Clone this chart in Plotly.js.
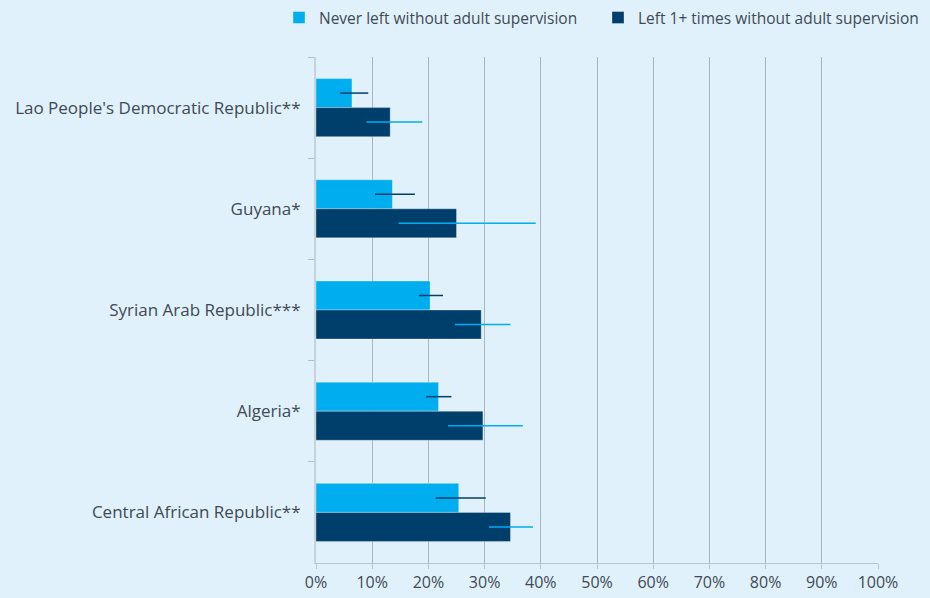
<!DOCTYPE html>
<html><head><meta charset="utf-8">
<script src="https://cdn.plot.ly/plotly-3.0.1.min.js"></script>
<style>body{margin:0;background:#e0f1fb;}</style>
</head><body><div id="chart" style="width:930px;height:598px;"></div>
<script>
const countries = ["Lao People's Democratic Republic**","Guyana*","Syrian Arab Republic***","Algeria*","Central African Republic**"];
const neverValues = [6.4, 13.6, 20.3, 21.8, 25.4];
const neverLow = [4.3, 10.5, 18.3, 19.6, 21.3];
const neverHigh = [9.3, 17.6, 22.6, 24.1, 30.2];
const leftValues = [13.2, 25.0, 29.4, 29.7, 34.6];
const leftLow = [9.0, 14.7, 24.7, 23.5, 30.8];
const leftHigh = [18.9, 39.1, 34.6, 36.8, 38.6];
const seriesNames = ["Never left without adult supervision","Left 1+ times without adult supervision"];
const xTicks = [0,10,20,30,40,50,60,70,80,90,100];

const plus = (v, h) => v.map((x,i)=>h[i]-x);
const minus = (v, l) => v.map((x,i)=>x-l[i]);

const traces = [
 {type:'bar', orientation:'h', name:seriesNames[0], y:countries, x:neverValues, legend:'legend',
  marker:{color:'#00adee', line:{color:'rgba(255,255,255,0.35)', width:1}},
  error_x:{type:'data', symmetric:false, array:plus(neverValues,neverHigh), arrayminus:minus(neverValues,neverLow), color:'#003f6b', thickness:1.5, width:0}},
 {type:'bar', orientation:'h', name:seriesNames[1], y:countries, x:leftValues, legend:'legend2',
  marker:{color:'#003f6b', line:{color:'rgba(255,255,255,0.3)', width:1}},
  error_x:{type:'data', symmetric:false, array:plus(leftValues,leftHigh), arrayminus:minus(leftValues,leftLow), color:'#00adee', thickness:1.5, width:0}}
];

const legendBase = {orientation:'h', xref:'container', yref:'container', xanchor:'left', y:0.97, yanchor:'middle',
   font:{size:15.5, color:'#404a54'}, itemwidth:30, bgcolor:'rgba(0,0,0,0)'};

const layout = {
 width:930, height:598,
 paper_bgcolor:'#e0f1fb', plot_bgcolor:'#e0f1fb',
 font:{family:'"Open Sans", "Noto Sans", sans-serif', size:15, color:'#404a54'},
 margin:{l:316, r:52, t:57, b:35, autoexpand:false},
 barmode:'group', bargap:0.426, bargroupgap:0,
 showlegend:true,
 legend:Object.assign({}, legendBase, {x:279/930}),
 legend2:Object.assign({}, legendBase, {x:598/930}),
 xaxis:{range:[0,100], tickvals:xTicks, ticktext:xTicks.map(v=>v+'%'), showgrid:true, gridcolor:'#a9b5bf', gridwidth:1,
   zeroline:false, showline:true, linecolor:'#b8c6d0', ticks:'outside', ticklen:5, tickcolor:'#b8c6d0', fixedrange:true, tickfont:{size:16}},
 yaxis:{autorange:'reversed', showgrid:false, zeroline:false, showline:true, linecolor:'#c5d3dd', linewidth:2,
   ticks:'outside', tickson:'boundaries', ticklen:6, tickcolor:'#b0bcc6', ticklabelstandoff:10, tickfont:{size:17}}
};
Plotly.newPlot('chart', traces, layout, {displayModeBar:false, staticPlot:true});
</script></body></html>
